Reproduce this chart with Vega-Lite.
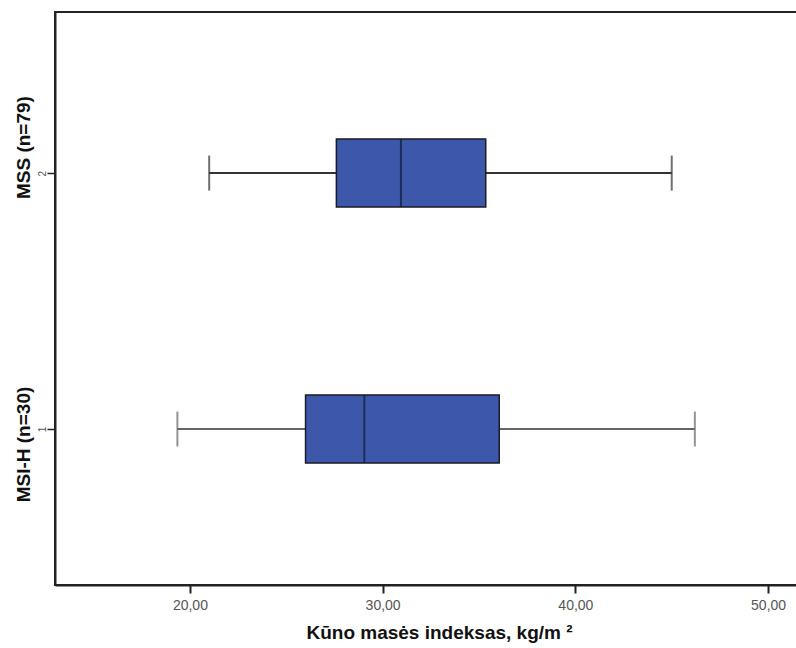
{
  "$schema": "https://vega.github.io/schema/vega-lite/v6.json",
  "width": 742,
  "height": 573,
  "autosize": {"type": "none"},
  "padding": {"left": 55, "top": 12, "right": 0, "bottom": 63},
  "background": "white",
  "config": {
    "view": {"stroke": "#222", "strokeWidth": 2},
    "font": "Liberation Sans"
  },
  "data": {
    "values": [
      {"group": "MSS (n=79)", "code": 2, "min": 21.0, "q1": 27.6, "median": 30.95, "q3": 35.35, "max": 45.0},
      {"group": "MSI-H (n=30)", "code": 1, "min": 19.35, "q1": 26.0, "median": 29.05, "q3": 36.05, "max": 46.2}
    ]
  },
  "layer": [
    {
      "mark": {"type": "rule", "strokeWidth": 2},
      "encoding": {
        "color": {"condition": {"test": "datum.code == 1", "value": "#666"}, "value": "#333"},
        "x": {"field": "min", "type": "quantitative", "scale": {"domain": [13, 51.5], "nice": false, "zero": false},
          "axis": {
            "values": [20, 30, 40, 50],
            "labelExpr": "replace(format(datum.value, '.2f'), '.', ',')",
            "grid": false,
            "domainColor": "#222", "domainWidth": 2,
            "tickColor": "#222", "tickWidth": 2, "tickSize": 8,
            "labelColor": "#555", "labelFontSize": 14, "labelBaseline": "alphabetic", "labelPadding": 16,
            "title": "Kūno masės indeksas, kg/m ²",
            "titleFontSize": 19, "titleFontWeight": "bold", "titleColor": "#111",
            "titleBaseline": "alphabetic", "titleX": 384, "titleY": 53
          }},
        "x2": {"field": "max"},
        "y": {"field": "code", "type": "quantitative", "scale": {"domain": [0.41, 2.61], "nice": false, "zero": false},
          "axis": {
            "values": [1, 2],
            "labelExpr": "format(datum.value, 'd')",
            "grid": false,
            "domainColor": "#222", "domainWidth": 2,
            "tickColor": "#222", "tickWidth": 1.5, "tickSize": 8,
            "labelColor": "#555", "labelFontSize": 10, "labelPadding": 2,
            "labelAngle": 270, "labelAlign": "center", "labelBaseline": "alphabetic",
            "title": null
          }}
      }
    },
    {
      "mark": {"type": "tick", "orient": "vertical", "size": 35, "thickness": 2},
      "encoding": {
        "color": {"condition": {"test": "datum.code == 1", "value": "#666"}, "value": "#333"},
        "x": {"field": "min", "type": "quantitative"},
        "y": {"field": "code", "type": "quantitative"}
      }
    },
    {
      "mark": {"type": "tick", "orient": "vertical", "size": 35, "thickness": 2},
      "encoding": {
        "color": {"condition": {"test": "datum.code == 1", "value": "#666"}, "value": "#333"},
        "x": {"field": "max", "type": "quantitative"},
        "y": {"field": "code", "type": "quantitative"}
      }
    },
    {
      "mark": {"type": "bar", "orient": "horizontal", "size": 68, "fill": "#3d58aa", "stroke": "#1a1a2a", "strokeWidth": 1.5},
      "encoding": {
        "x": {"field": "q1", "type": "quantitative"},
        "x2": {"field": "q3"},
        "y": {"field": "code", "type": "quantitative"}
      }
    },
    {
      "mark": {"type": "tick", "orient": "vertical", "color": "#111a33", "size": 68, "thickness": 2},
      "encoding": {
        "x": {"field": "median", "type": "quantitative"},
        "y": {"field": "code", "type": "quantitative",
          "axis": {
            "orient": "left",
            "values": [1, 2],
            "labelExpr": "datum.value == 2 ? 'MSS (n=79)' : 'MSI-H (n=30)'",
            "labelAngle": 270,
            "labelAlign": "center",
            "labelBaseline": "alphabetic",
            "labelFontSize": 19,
            "labelFontWeight": "bold",
            "labelColor": "#111",
            "labelPadding": 26,
            "labelOffset": {"condition": {"test": "datum.value == 2", "value": -26}, "value": 15},
            "ticks": false,
            "domain": false,
            "grid": false,
            "title": null
          }}
      }
    }
  ],
  "resolve": {"axis": {"y": "independent"}}
}
